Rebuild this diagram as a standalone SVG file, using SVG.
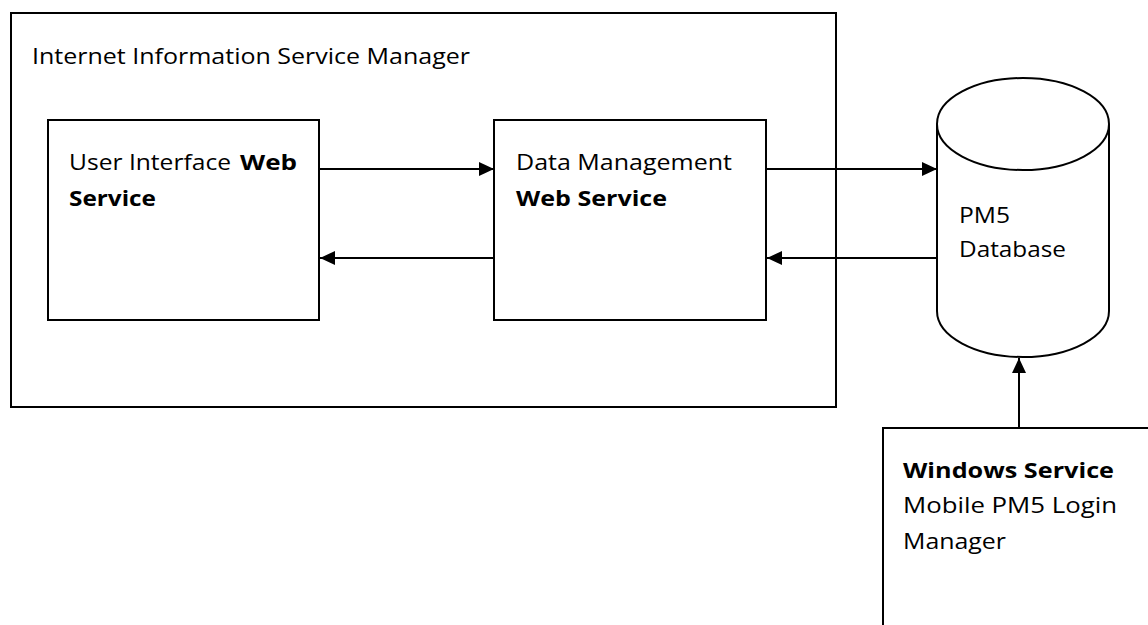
<svg xmlns="http://www.w3.org/2000/svg" width="1148" height="625" viewBox="0 0 1148 625">
<style>
.box{fill:#fff;stroke:#000;stroke-width:2}
.t{font-family:"Open Sans","Noto Sans","Liberation Sans",sans-serif;font-size:21px;fill:#000}
.b{font-weight:bold}
.c{fill:none;stroke:#000;stroke-width:2}
</style>
<defs>
<marker id="ah" markerUnits="userSpaceOnUse" markerWidth="16" markerHeight="14" refX="15" refY="7" orient="auto">
<path d="M0,0 L15,7 L0,14 Z" fill="#000"/>
</marker>
</defs>
<g id="iis">
<rect class="box" x="11" y="13" width="825" height="394"/>
<text class="t" x="32" y="64" textLength="438" lengthAdjust="spacingAndGlyphs">Internet Information Service Manager</text>
</g>
<g id="ui">
<rect class="box" x="48" y="120" width="271" height="200"/>
<text class="t" x="69" y="170" textLength="162" lengthAdjust="spacingAndGlyphs">User Interface</text>
<text class="t b" x="240" y="170" textLength="57" lengthAdjust="spacingAndGlyphs">Web</text>
<text class="t b" x="69" y="206" textLength="87" lengthAdjust="spacingAndGlyphs">Service</text>
</g>
<g id="dm">
<rect class="box" x="494" y="120" width="272" height="200"/>
<text class="t" x="516" y="170" textLength="216" lengthAdjust="spacingAndGlyphs">Data Management</text>
<text class="t b" x="516" y="206" textLength="151" lengthAdjust="spacingAndGlyphs">Web Service</text>
</g>
<g id="db">
<path class="box" d="M937,124 L937,311 A86,46 0 0 0 1109,311 L1109,124 A86,46 0 0 0 937,124 Z"/>
<path class="c" d="M937,124 A86,46 0 0 0 1109,124"/>
<text class="t" x="959" y="223" textLength="51" lengthAdjust="spacingAndGlyphs">PM5</text>
<text class="t" x="959" y="257" textLength="107" lengthAdjust="spacingAndGlyphs">Database</text>
</g>
<g id="ws">
<rect class="box" x="883" y="428" width="300" height="260"/>
<text class="t b" x="903" y="478" textLength="211" lengthAdjust="spacingAndGlyphs">Windows Service</text>
<text class="t" x="903" y="513" textLength="214" lengthAdjust="spacingAndGlyphs">Mobile PM5 Login</text>
<text class="t" x="903" y="549" textLength="103" lengthAdjust="spacingAndGlyphs">Manager</text>
</g>
<g id="connectors">
<line class="c" x1="320" y1="169" x2="494" y2="169" marker-end="url(#ah)"/>
<line class="c" x1="494" y1="258" x2="320" y2="258" marker-end="url(#ah)"/>
<line class="c" x1="767" y1="169" x2="937" y2="169" marker-end="url(#ah)"/>
<line class="c" x1="937" y1="258" x2="767" y2="258" marker-end="url(#ah)"/>
<line class="c" x1="1019" y1="428" x2="1019" y2="358" marker-end="url(#ah)"/>
</g>
</svg>
